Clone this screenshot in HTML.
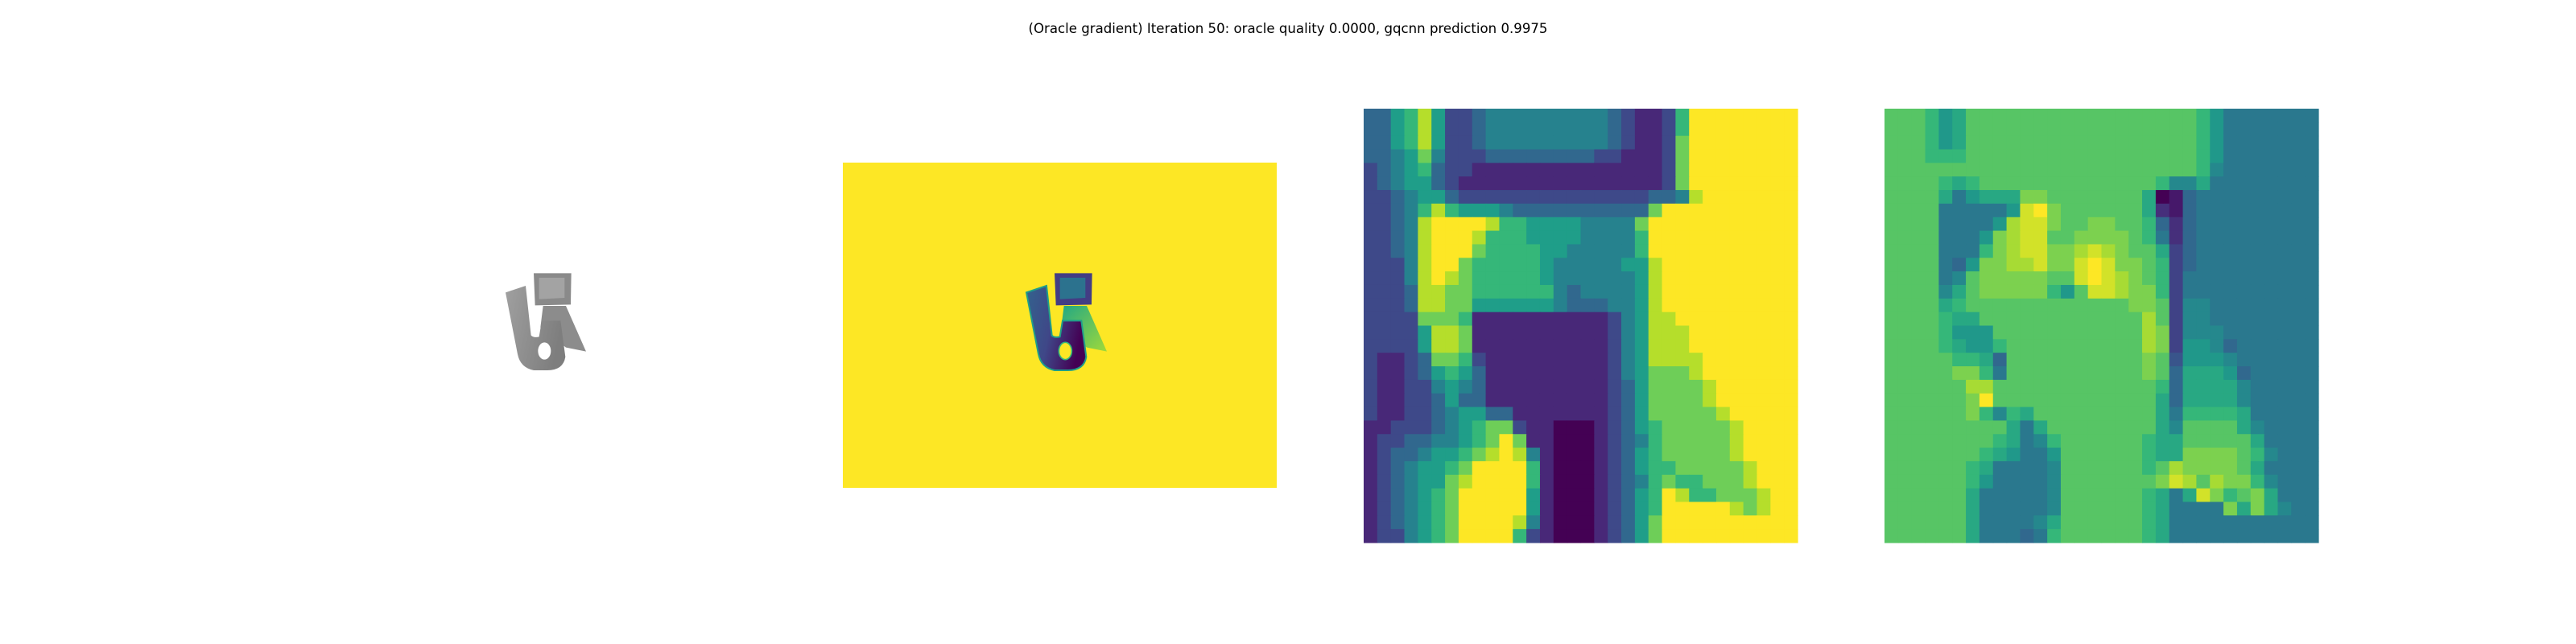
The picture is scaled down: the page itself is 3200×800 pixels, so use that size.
<!DOCTYPE html>
<html><head><meta charset="utf-8"><style>
html,body{margin:0;padding:0;background:#fff;}
svg{display:block}
</style></head><body>
<svg id="fig" width="3200" height="800" viewBox="0 0 3200 800" xmlns="http://www.w3.org/2000/svg">
<text x="1600" y="41" text-anchor="middle" font-family="'DejaVu Sans Condensed','Liberation Sans',sans-serif" font-size="17" textLength="645" lengthAdjust="spacingAndGlyphs" fill="#000">(Oracle gradient) Iteration 50: oracle quality 0.0000, gqcnn prediction 0.9975</text>
<defs>
<linearGradient id="gArm" x1="0" y1="0" x2="1" y2="0.3"><stop offset="0" stop-color="#33638d"/><stop offset="0.5" stop-color="#3f4788"/><stop offset="1" stop-color="#440154"/></linearGradient>
<linearGradient id="gTri" x1="0" y1="0" x2="1" y2="1"><stop offset="0" stop-color="#22a884"/><stop offset="1" stop-color="#a0da39"/></linearGradient>
<linearGradient id="gGray" x1="0" y1="0" x2="1" y2="0.3"><stop offset="0" stop-color="#a0a0a0"/><stop offset="1" stop-color="#7e7e7e"/></linearGradient>
</defs>
<g id="panel1" transform="translate(613,330) scale(0.3333)">
<polygon points="185,150 270,150 345,320 270,305 175,230" fill="#8c8c8c"/>
<path d="M45,100 L120,75 L140,260 Q150,270 170,265 L180,205 L250,205 L268,340 Q260,390 200,390 L150,390 Q100,380 90,330 Z" fill="url(#gGray)"/>
<ellipse cx="190" cy="318" rx="24" ry="32" fill="#fff"/>
<polygon points="150,28 290,28 288,145 155,148" fill="#8a8a8a"/>
<polygon points="170,45 265,45 265,120 170,125" fill="#a3a3a3"/>
</g>
<g>
<rect x="1047" y="202" width="539" height="404" fill="#fde725"/>
<g transform="translate(1260,330) scale(0.3333)">
<polygon points="185,150 270,150 345,320 270,305 175,230" fill="url(#gTri)"/>
<path d="M45,100 L120,75 L140,260 Q150,270 170,265 L180,205 L250,205 L268,340 Q260,390 200,390 L150,390 Q100,380 90,330 Z" fill="url(#gArm)" stroke="#1f9e89" stroke-width="6"/>
<ellipse cx="190" cy="318" rx="24" ry="32" fill="#fde725" stroke="#35b779" stroke-width="5"/>
<polygon points="150,28 290,28 288,145 155,148" fill="#433d84"/>
<polygon points="170,45 265,45 265,120 170,125" fill="#2c728e"/>
</g>
</g>
<g id="hm1"></g>
<g id="hm2"></g>
</svg>
<script>
// Heatmap 1 values (0-9 scale of viridis)
const heat1Rows = [
"33568522344444444432112699999999",
"33568522344444444432112699999999",
"33568522344444444432112799999999",
"33457422233333333221112799999999",
"23456322111111111111112799999999",
"23455321111111111111112799999999",
"22345532222222222222233489999999",
"22346865554333333333379999999999",
"22348999986655554444799999999999",
"22348999866655554444699999999999",
"22348999766665544444699999999999",
"22248997666665444445589999999999",
"22248987666665444444589999999999",
"22238877666666434444589999999999",
"22238877555555433344589999999999",
"22227776111111111124588999999999",
"22225887111111111124588899999999",
"22225887111111111124588899999999",
"21123776211111111124588889999999",
"21123565311111111124577789999999",
"21122454311111111123577778999999",
"21122353311111111123577778999999",
"21122345533111111123577777899999",
"11222345677211000123567777789999",
"12233445679711000123467777789999",
"12334556789841000123567777789999",
"12345567999961000123566777778999",
"12345578999961000123467667778999",
"12345679999951000123569866777899",
"12345679999951000123569999987899",
"12345679999841000123579999999999",
"12245679999621000123579999999999"];
// Heatmap 2 values (0-15 scale of viridis, hex digits)
const heat2Rows = [
"bbba89bbbbbbbbbbbbbbbbba86666666",
"bbba89bbbbbbbbbbbbbbbbba86666666",
"bbba89bbbbbbbbbbbbbbbbba86666666",
"bbbaaabbbbbbbbbbbbbbbbba86666666",
"bbbbbbbbbbbbbbbbbbbbbbba76666666",
"bbbba9abbbbbbbbbbbbba77966666666",
"bbbb968999ccbbbbbbb9015666666666",
"bbbb666668efcbbbbbb9215666666666",
"bbbb66668deecbbccbba525666666666",
"bbbb6668cdeebbccccba625666666666",
"bbbb666acdeeccdedcbb935666666666",
"bbbb658ccddeccefeccba35666666666",
"bbbb67bcccccbbefedcba36666666666",
"bbbb79bccccca8beedcca36666666666",
"bbbb9abbbbbbbbbbbbccb37766666666",
"bbbba99bbbbbbbbbbbbdb37766666666",
"bbbba888bbbbbbbbbbbdc37776666666",
"bbbba988abbbbbbbbbbdc38875666666",
"bbbbbaa95bbbbbbbbbbcb48887666666",
"bbbbbcca6bbbbbbbbbbcb59998566666",
"bbbbbbddbbbbbbbbbbbba59999766666",
"bbbbbbcfbbbbbbbbbbbb959999766666",
"bbbbbbca7a9bbbbbbbbb96aaaa966666",
"bbbbbbbbb969bbbbbbbb97bbbb976666",
"bbbbbbbba967abbbbbba99bbbbb96666",
"bbbbbbba98668bbbbbba99ccccba7666",
"bbbbbba966667bbbbbbabdccccb96666",
"bbbbbba866667bbbbbbbcedbdcca7666",
"bbbbbb9666667bbbbbba969ecabc9666",
"bbbbbb9666667bbbbbba96666c9c9766",
"bbbbbb9666679bbbbbba966666666666",
"bbbbbb966656abbbbbba966666666666"];
const stops=[[68,1,84],[72,40,120],[62,73,137],[49,104,142],[38,130,142],[31,158,137],[53,183,121],[110,206,88],[181,222,43],[253,231,37]];
function viridis(t){t=Math.max(0,Math.min(1,t));const p=t*9,i=Math.min(8,Math.floor(p)),f=p-i;const a=stops[i],b=stops[i+1];return 'rgb('+a.map((v,k)=>Math.round(v+(b[k]-v)*f)).join(',')+')';}
function cellVal(row,j,maxv){let ch=(row[j]||row[row.length-1]);let v=parseInt(ch,16);if(isNaN(v))v=11;return v/maxv;}
function drawHeat(gid,rows,maxv,x0,y0,size,name){
  const g=document.getElementById(gid);const n=32,cs=size/n;
  const NS='http://www.w3.org/2000/svg';
  for(let i=0;i<n;i++){const row=rows[i].replace(/\s/g,'');for(let j=0;j<n;j++){
    const r=document.createElementNS(NS,'rect');
    r.setAttribute('x',(x0+j*cs).toFixed(2));r.setAttribute('y',(y0+i*cs).toFixed(2));
    r.setAttribute('width',(cs+0.6).toFixed(2));r.setAttribute('height',(cs+0.6).toFixed(2));
    r.setAttribute('fill',viridis(cellVal(row,j,maxv)));
    
    
    g.appendChild(r);}}
}
drawHeat('hm1',heat1Rows,9,1694,135,539,'depth-cell');
drawHeat('hm2',heat2Rows,15,2341,135,539,'gradient-cell');
</script>
</body></html>
